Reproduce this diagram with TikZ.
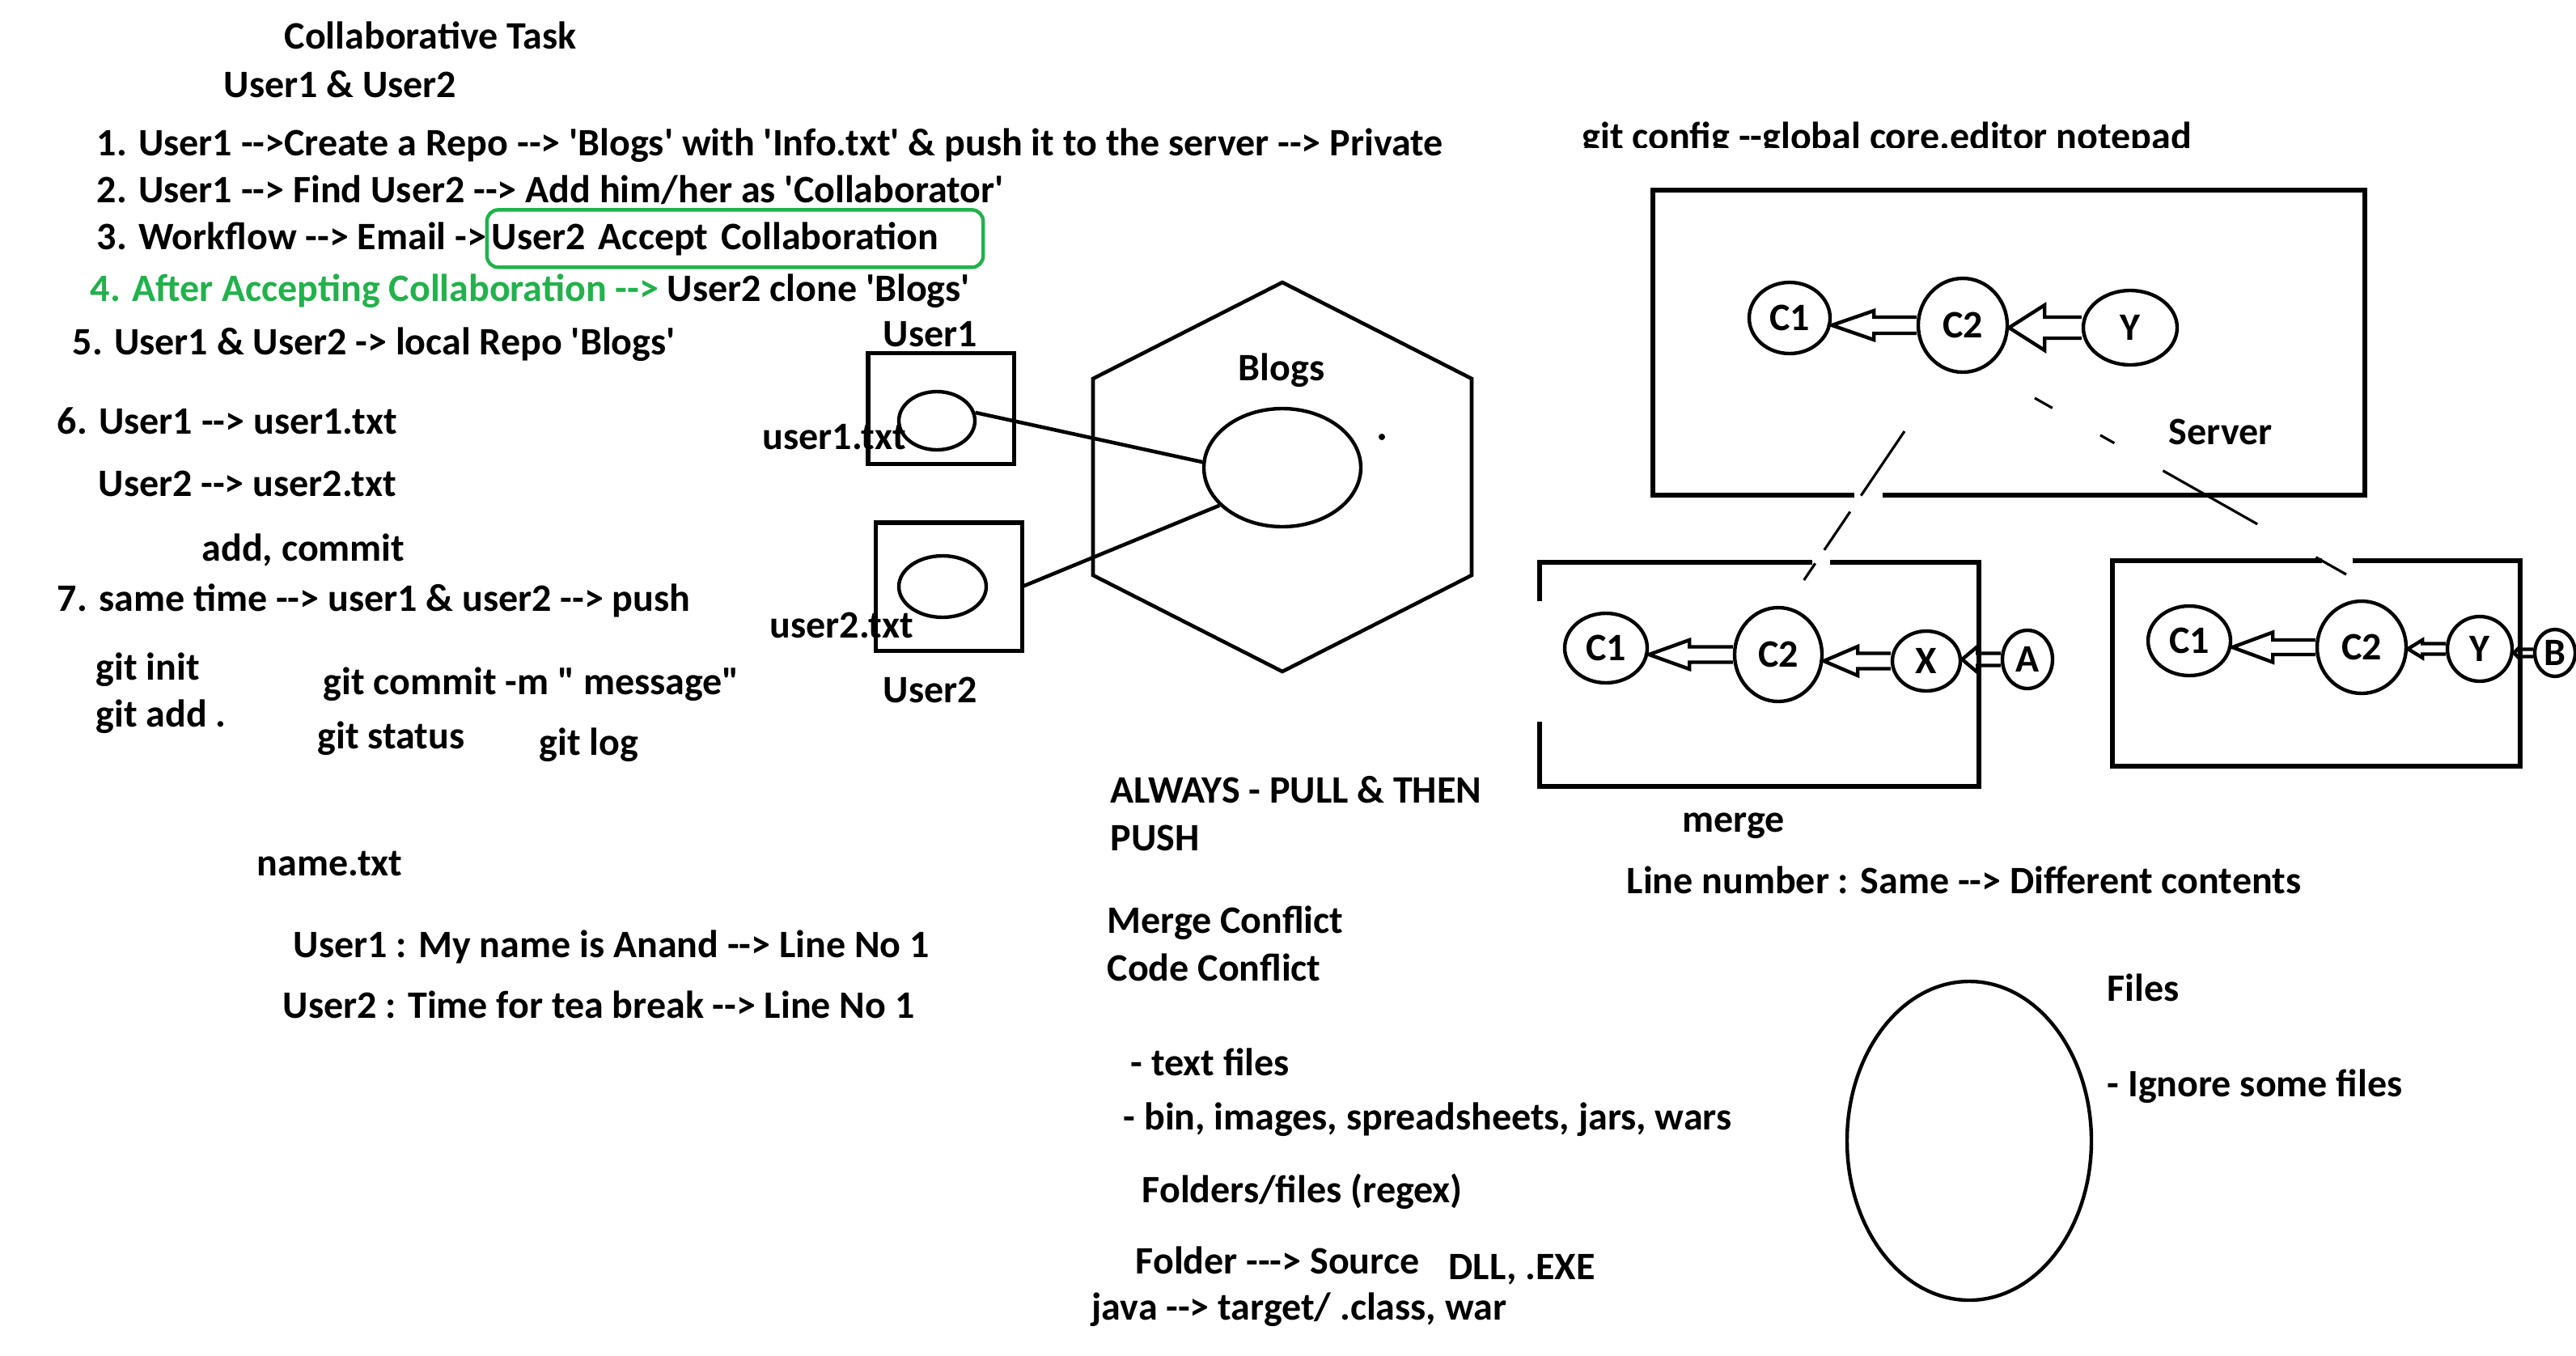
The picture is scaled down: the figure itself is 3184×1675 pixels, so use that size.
\documentclass[tikz,border=0pt]{standalone}
\usepackage{fontspec}
\newfontfamily\sketchfont{Carlito}
\usepackage{tikz}
\usetikzlibrary{positioning, calc, shapes.geometric}
\definecolor{paintgreen}{RGB}{34,177,76}

% outlined block arrow from one commit back to its parent
\newcommand{\hollowarrow}[5]{%
  \draw[hollow] ($(#1.west)+(0,#3)$) -- ($(#2.east |- #1.west)+(#5,#3)$)
    -- ($(#2.east |- #1.west)+(#5,#4)$) -- (#2.east |- #1.west)
    -- ($(#2.east |- #1.west)+(#5,-#4)$) -- ($(#2.east |- #1.west)+(#5,-#3)$)
    -- ($(#1.west)+(0,-#3)$);
}

\begin{document}
\begin{tikzpicture}[
  x=0.01cm, y=-0.01cm,
  font=\sketchfont\bfseries\fontsize{13.65}{16}\selectfont,
  note/.style={anchor=base west, inner sep=0pt},
  frame/.style={line width=1.45pt},
  filebox/.style={draw, rectangle, line width=1.45pt, inner sep=0pt, outer sep=0pt},
  commit/.style 2 args={ellipse, draw, line width=1.25pt, inner sep=0pt,
    minimum width=#1*0.01cm, minimum height=#2*0.01cm},
  hollow/.style={line width=1.25pt, line join=miter},
  link/.style={line width=1.3pt},
  faded/.style={line width=0.9pt},
  acceptbox/.style={draw=paintgreen, line width=1.25pt, rounded corners=4pt,
    inner xsep=0.06cm, outer sep=0pt, text width=6.01cm, align=left,
    minimum height=0.71cm},
]
  \fill[white, use as bounding box] (0,0) rectangle (3184,1675);

  % task list
  \node[note] (title) at (351,60) {Collaborative Task};
  \node[note] (users) at (276,120) {User1 \& User2};
  \node[note] (s1) at (119,192) {1. User1 -->Create a Repo --> 'Blogs' with 'Info.txt' \& push it to the server --> Private};
  \node[note] (s2) at (119,250) {2. User1 --> Find User2 --> Add him/her as 'Collaborator'};
  \node[note] (s3) at (119,308) {3. Workflow --> Email ->};
  \node[acceptbox, base right=0pt of s3] (accept) {User2 Accept Collaboration};
  \node[note] (s4) at (111,372) {\textcolor{paintgreen}{4. After Accepting Collaboration -->} User2 clone 'Blogs'};
  \node[note] (s5) at (89,438) {5. User1 \& User2 -> local Repo 'Blogs'};
  \node[note] (s6) at (70,536) {6. User1 --> user1.txt};
  \node[note] (s6b) at (121,613) {User2 --> user2.txt};
  \node[note] (addcommit) at (249,693) {add, commit};
  \node[note] (s7) at (70,755) {7. same time --> user1 \& user2 --> push};
  \node[note] (gitinit) at (118,840) {git init};
  \node[note] (gitadd) at (118,898) {git add .};
  \node[note] (gitcommit) at (399,858) {git commit -m " message"};
  \node[note] (gitstatus) at (392,925) {git status};
  \node[note] (gitlog) at (666,933) {git log};
  \node[note] (nametxt) at (317,1082) {name.txt};
  \node[note] (name1) at (362,1183) {User1 : My name is Anand --> Line No 1};
  \node[note] (name2) at (349,1258) {User2 : Time for tea break --> Line No 1};

  % local copies and the shared repo
  \node[filebox, minimum width=1.80cm, minimum height=1.37cm] (u1box) at (1163,505) {};
  \node[filebox, minimum width=1.81cm, minimum height=1.58cm] (u2box) at (1173,725) {};
  \node[commit={94}{72}] (u1file) at (1158,520) {};
  \node[commit={108}{76}] (u2file) at (1165,725) {};
  \node[note] (u1lbl) at (1091,428) {User1};
  \node[note] (u2lbl) at (1091,868) {User2};
  \node[note] (u1txt) at (942,555) {user1.txt};
  \node[note] (u2txt) at (951,788) {user2.txt};
  \draw[link] (1585,349) -- (1819,468) -- (1819,711) -- (1585,830)
    -- (1351,711) -- (1351,468) -- cycle;
  \node[note] (blogslbl) at (1530,470) {Blogs};
  \node[commit={194}{146}] (blogrepo) at (1585,578) {};
  \fill (1708,540) circle (0.04cm);
  \draw[link] (u1file.12) -- (blogrepo.176);
  \draw[link] (u2box.east) -- (blogrepo.211);

  % notes below
  \node[note] (always) at (1372,992) {ALWAYS - PULL \& THEN};
  \node[note] (push) at (1372,1051) {PUSH};
  \node[note] (mergeconf) at (1368,1153) {Merge Conflict};
  \node[note] (codeconf) at (1368,1212) {Code Conflict};
  \node[note] (textfiles) at (1397,1329) {- text files};
  \node[note] (binfiles) at (1388,1396) {- bin, images, spreadsheets, jars, wars};
  \node[note] (regex) at (1411,1486) {Folders/files (regex)};
  \node[note] (source) at (1403,1574) {Folder ---> Source};
  \node[note] (dll) at (1790,1581) {DLL, .EXE};
  \node[note] (java) at (1349,1631) {java --> target/ .class, war};

  % server and the two clones
  \begin{scope}
    \clip (1900,100) rectangle (2800,182);
    \node[note] (gitconfig) at (1955,184) {git config --global core.editor notepad};
  \end{scope}
  \draw[frame] (2292,612) -- (2043,612) -- (2043,235) -- (2923,235) -- (2923,612) -- (2327,612);
  \node[commit={100}{88}] (sc1) at (2212,393) {C1};
  \node[commit={110}{116}] (sc2) at (2426,402) {C2};
  \node[commit={116}{92}] (sy) at (2633,405) {Y};
  \node[note] (server) at (2680,549) {Server};

  \draw[frame] (2240,695) -- (1903,695) -- (1903,743);
  \draw[frame] (1903,892) -- (1903,972) -- (2446,972) -- (2446,695) -- (2262,695);
  \node[commit={102}{86}] (lc1) at (1985,801) {C1};
  \node[commit={108}{116}] (lc2) at (2198,809) {C2};
  \node[commit={84}{74}] (lx) at (2381,817) {X};
  \node[commit={62}{72}] (la) at (2506,815) {A};
  \node[note] (merge) at (2079,1028) {merge};

  \draw[frame] (2870,693) -- (2611,693) -- (2611,947) -- (3115,947) -- (3115,693) -- (2908,693);
  \node[commit={102}{86}] (rc1) at (2706,792) {C1};
  \node[commit={110}{114}] (rc2) at (2919,800) {C2};
  \node[commit={80}{80}] (ry) at (3065,802) {Y};
  \node[commit={50}{58}] (rb) at (3158,807) {B};

  \foreach \tail/\head/\s/\h/\l in {sc2/sc1/10/18/52, sy/sc2/13/28/44,
      lc2/lc1/9.5/18/50, lx/lc2/9.5/18/42, la/lx/7.5/16/19,
      rc2/rc1/9/18.5/50, ry/rc2/6.5/11/18, rb/ry/4.5/8/8}
    \hollowarrow{\tail}{\head}{\s}{\h}{\l};

  \coordinate (srvL) at (2354,533);
  \coordinate (locL) at (2229,718);
  \coordinate (srvR) at (2515,492);
  \coordinate (locR) at (2900,710);
  \draw[faded, dash pattern=on 9.6mm off 2.4mm on 5.7mm off 2mm on 2.5mm] (srvL) -- (locL);
  \draw[faded, dash pattern=on 2.5mm off 6.8mm on 2mm off 6.9mm on 13.4mm off 8.3mm on 4.4mm] (srvR) -- (locR);

  \node[note] (linenum) at (2010,1104) {Line number : Same --> Different contents};

  % ignore list
  \node[commit={302}{394}] (fileset) at (2434,1410) {};
  \node[note] (files) at (2604,1237) {Files};
  \node[note] (ignore) at (2604,1355) {- Ignore some files};
\end{tikzpicture}
\end{document}
